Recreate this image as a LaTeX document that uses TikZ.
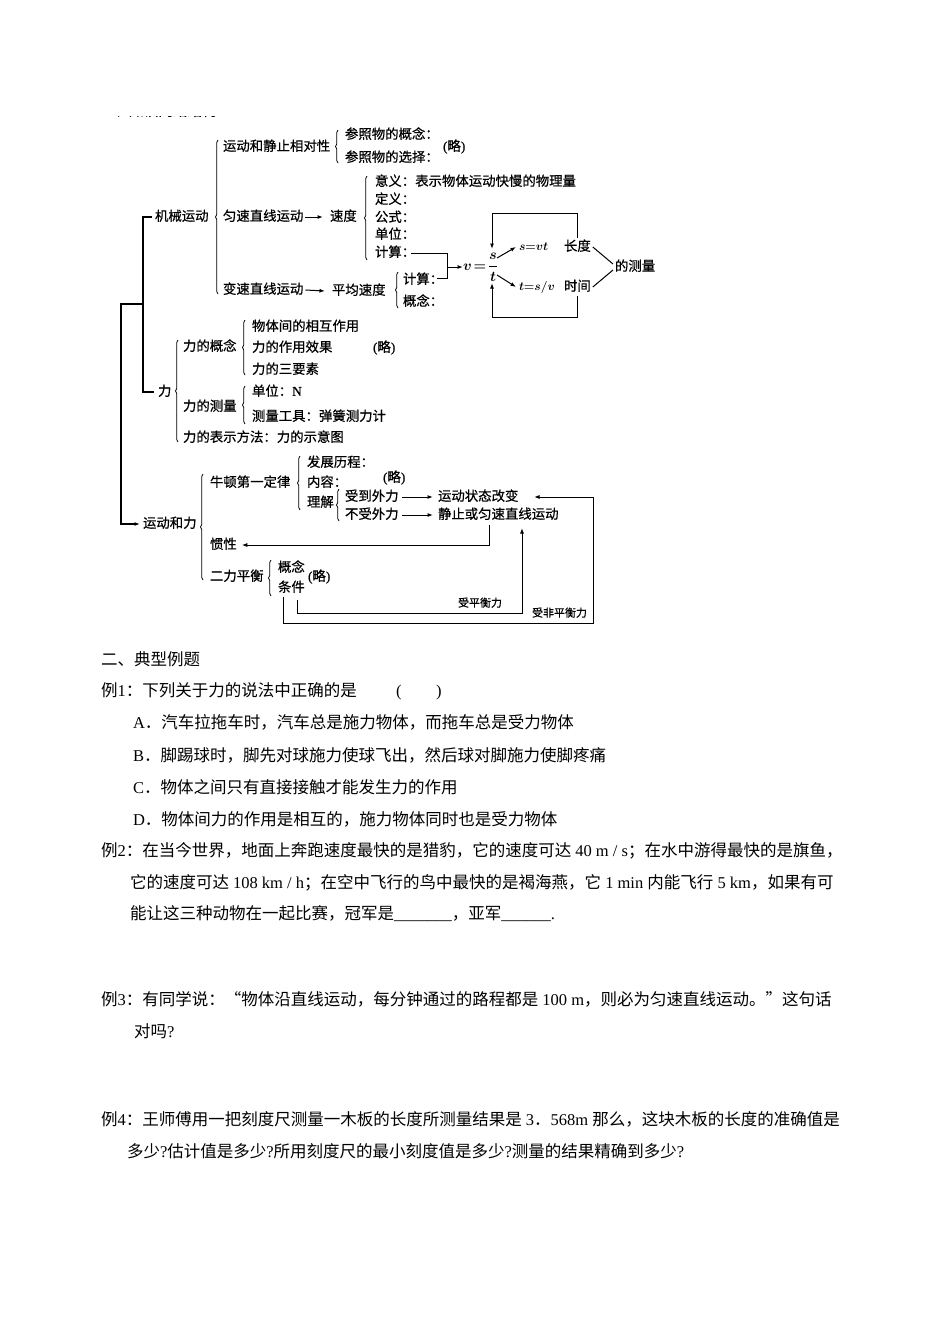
\documentclass[tikz,border=0pt]{standalone}
\usepackage{fontspec}
\setmainfont{Noto Sans CJK SC}
\newfontfamily\dgfont{Noto Sans CJK SC}[FakeBold=0.6]
\newfontfamily\lat{Liberation Serif}
\newfontfamily\latb{Liberation Serif}[FakeBold=0.6]
\usetikzlibrary{arrows.meta,decorations.pathreplacing,calc}
\begin{document}
\begin{tikzpicture}[x=1pt,y=-1pt,
  dg/.style={font=\dgfont\fontsize{13.4}{14}\selectfont, anchor=west, inner sep=0pt, outer sep=0pt, text height=0.88em, text depth=0.12em},
  sm/.style={font=\dgfont\fontsize{11}{12}\selectfont, anchor=west, inner sep=0pt, outer sep=0pt, text height=0.88em, text depth=0.12em},
  tx/.style={font=\fontsize{16.5}{18}\selectfont, anchor=west, inner sep=0pt, outer sep=0pt, text height=0.88em, text depth=0.12em},
  mt/.style={font=\fontsize{14}{15}\selectfont\boldmath, anchor=west, inner sep=0pt, outer sep=0pt},
  mts/.style={font=\fontsize{13}{14}\selectfont\boldmath, anchor=west, inner sep=0pt, outer sep=0pt},
  ln/.style={line width=1pt},
  bk/.style={line width=1.5pt},
  arr/.style={-{Latex[length=5.5pt,width=4pt]}},
  brc/.style={decorate, decoration={brace,amplitude=2.5pt}, line width=0.75pt}]
\useasboundingbox (0,0) rectangle (950,1344);
\fill[white] (0,0) rectangle (950,1344);

% clipped heading at the top edge of the diagram
\begin{scope}
  \clip (95,116.9) rectangle (230,120);
  \node[tx, font=\dgfont\fontsize{14.6}{15}\selectfont] (head) at (100,112) {一、知识网络结构：};
\end{scope}

% ---------- main branches ----------
\node[dg] (jx) at (155,217) {机械运动};
\node[dg] (li) at (158,392) {力};
\node[dg] (ydhl) at (143,524) {运动和力};
\coordinate (j1) at (143,217);
\coordinate (j2) at (143,304);
\coordinate (j3) at (121,304);
\draw[bk] ([xshift=-3pt]jx.west) -- (j1) |- ([xshift=-4pt]li.west);
\draw[bk,arr] (j2) -- (j3) |- ([xshift=-3pt]ydhl.west);

% ---------- 机械运动 ----------
\draw[brc] (218,294) -- (218,140);
\node[dg] (ydjz) at (223,147) {运动和静止相对性};
\draw[brc] (338,163) -- (338,130);
\node[dg] (cz1) at (345,135) {参照物的概念：};
\node[dg] (cz2) at (345,158) {参照物的选择：};
\node[dg] (l1) at (443,147) {{\latb (}略{\latb )}};

\node[dg] (yszx) at (223,217) {匀速直线运动};
\node[dg] (sd) at (330,217) {速度};
\draw[ln,arr] ([xshift=2pt]yszx.east) -- ([xshift=-7pt]sd.west);
\draw[brc] (367,260) -- (367,176);
\node[dg] (yy) at (375,182) {意义：表示物体运动快慢的物理量};
\node[dg] (dy) at (375,200) {定义：};
\node[dg] (gs) at (375,218) {公式：};
\node[dg] (dw) at (375,235) {单位：};
\node[dg] (js1) at (375,253) {计算：};

\node[dg] (bszx) at (223,290) {变速直线运动};
\node[dg] (pjsd) at (332,291) {平均速度};
\draw[ln,arr] ([xshift=2pt]bszx.east) -- ([xshift=-7pt,yshift=0pt]pjsd.west);
\draw[brc] (398,308) -- (398,272);
\node[dg] (js2) at (403,280) {计算：};
\node[dg] (gn) at (403,302) {概念：};

% junction into v = s/t
\node[mt] (v) at (463,267) {$v\!=\!\displaystyle\frac{s}{t}$};
\coordinate (jT) at (447,253);
\coordinate (jB) at (447,278);
\coordinate (jM) at (447,267);
\draw[ln] ([xshift=-4pt]js1.east) -- (jT) -- (jB) -- ([xshift=-6pt]js2.east |- jB);
\draw[ln,arr] (jM) -- (v.west);

\node[mts] (svt) at (519,247) {${s}{=}{vt}$};
\node[mts] (tsv) at (519,287) {${t}{=}{s/v}$};
\coordinate (a1) at (497,258);
\coordinate (a2) at (497,275);
\draw[ln,arr] (a1) -- ([xshift=-3pt]svt.west);
\draw[ln,arr] (a2) -- ([xshift=-3pt]tsv.west);

\node[dg] (cd) at (564,247) {长度};
\node[dg] (sj) at (564,287) {时间};
\node[dg] (dcl) at (615,267) {的测量};
\coordinate (boxT) at (492,213);
\coordinate (boxB) at (492,317);
\coordinate (tipT) at (492,249);
\coordinate (tipB) at (492,283);
\draw[ln,arr] ([yshift=4pt]cd.north) |- (boxT) -- (tipT);
\draw[ln,arr] ([yshift=-4pt]sj.south) |- (boxB) -- (tipB);
\draw[ln] ([xshift=2pt]cd.east) -- ([xshift=-2pt,yshift=3pt]dcl.west);
\draw[ln] ([xshift=2pt]sj.east) -- ([xshift=-2pt,yshift=-3pt]dcl.west);

% ---------- 力 ----------
\draw[brc] (178,442) -- (178,340);
\node[dg] (lgn) at (183,347) {力的概念};
\draw[brc] (245,375) -- (245,320);
\node[dg] (wt) at (252,327) {物体间的相互作用};
\node[dg] (zyxg) at (252,348) {力的作用效果};
\node[dg] (l2) at (373,348) {{\latb (}略{\latb )}};
\node[dg] (sys) at (252,370) {力的三要素};
\node[dg] (lcl) at (183,407) {力的测量};
\draw[brc] (245,424) -- (245,386);
\node[dg] (dwn) at (252,392) {单位：{\latb N}};
\node[dg] (clgj) at (252,417) {测量工具：弹簧测力计};
\node[dg] (bsff) at (183,438) {力的表示方法：力的示意图};

% ---------- 运动和力 ----------
\draw[brc] (203,580) -- (203,474);
\node[dg] (nd) at (210,483) {牛顿第一定律};
\draw[brc] (300,510) -- (300,456);
\node[dg] (fz) at (307,463) {发展历程：};
\node[dg] (nr) at (307,483) {内容：};
\node[dg] (l3) at (383,478) {{\latb (}略{\latb )}};
\node[dg] (lj) at (307,503) {理解};
\draw[brc] (339,521) -- (339,489);
\node[dg] (sdwl) at (345,497) {受到外力};
\node[dg] (bswl) at (345,515) {不受外力};
\node[dg] (ztgb) at (438,497) {运动状态改变};
\node[dg] (jz) at (438,515) {静止或匀速直线运动};
\draw[ln,arr] ([xshift=3pt]sdwl.east) -- ([xshift=-5pt]ztgb.west);
\draw[ln,arr] ([xshift=3pt]bswl.east) -- ([xshift=-5pt]jz.west);

\node[dg] (gx) at (210,545) {惯性};
\coordinate (g1) at (489,525);
\draw[ln,arr] (g1) |- ([xshift=5pt]gx.east);

\node[dg] (elph) at (210,577) {二力平衡};
\draw[brc] (271,596) -- (271,560);
\node[dg] (gn2) at (278,568) {概念};
\node[dg] (tj) at (278,588) {条件};
\node[dg] (l4) at (308,577) {{\latb (}略{\latb )}};

\coordinate (q1) at (283,597);
\coordinate (q2) at (593,623);
\coordinate (q3) at (534,497);
\draw[ln,arr] (q1) |- (q2) |- (q3);
\coordinate (w0) at (297,600);
\coordinate (w1) at (522,613);
\coordinate (w2) at (522,528);
\draw[ln,arr] (w0) |- (w1) -- (w2);
\node[sm] (spl) at (458,603) {受平衡力};
\node[sm] (sfpl) at (532,613) {受非平衡力};

% ---------- 典型例题 ----------
\node[tx] (h2) at (101,662) {二、典型例题};
\node[tx] (e1) at (101,693) {例{\lat 1}：下列关于力的说法中正确的是};
\node[tx] (pl) at (396,693) {{\lat (}};
\node[tx] (pr) at (436,693) {{\lat )}};
\node[tx] (oa) at (133,725) {{\lat A}．汽车拉拖车时，汽车总是施力物体，而拖车总是受力物体};
\node[tx] (ob) at (133,758) {{\lat B}．脚踢球时，脚先对球施力使球飞出，然后球对脚施力使脚疼痛};
\node[tx] (oc) at (133,790) {{\lat C}．物体之间只有直接接触才能发生力的作用};
\node[tx] (od) at (133,822) {{\lat D}．物体间力的作用是相互的，施力物体同时也是受力物体};

\node[tx] (e2a) at (101,853) {例{\lat 2}：在当今世界，地面上奔跑速度最快的是猎豹，它的速度可达{\lat\ 40 m / s}；在水中游得最快的是旗鱼，};
\node[tx] (e2b) at (130,885) {它的速度可达{\lat\ 108 km / h}；在空中飞行的鸟中最快的是褐海燕，它{\lat\ 1 min }内能飞行{\lat\ 5 km}，如果有可};
\node[tx] (e2c) at (130,916) {能让这三种动物在一起比赛，冠军是{\lat \_\_\_\_\_\_\_}，亚军{\lat \_\_\_\_\_\_.}};

\node[tx] (e3a) at (101,1002) {例{\lat 3}：有同学说：“物体沿直线运动，每分钟通过的路程都是{\lat\ 100 m}，则必为匀速直线运动。”这句话};
\node[tx] (e3b) at (134,1034) {对吗{\lat ?}};

\node[tx] (e4a) at (101,1122) {例{\lat 4}：王师傅用一把刻度尺测量一木板的长度所测量结果是{\lat\ 3}．{\lat 568m }那么，这块木板的长度的准确值是};
\node[tx] (e4b) at (127,1154) {多少{\lat ?}估计值是多少{\lat ?}所用刻度尺的最小刻度值是多少{\lat ?}测量的结果精确到多少{\lat ?}};
\end{tikzpicture}
\end{document}
